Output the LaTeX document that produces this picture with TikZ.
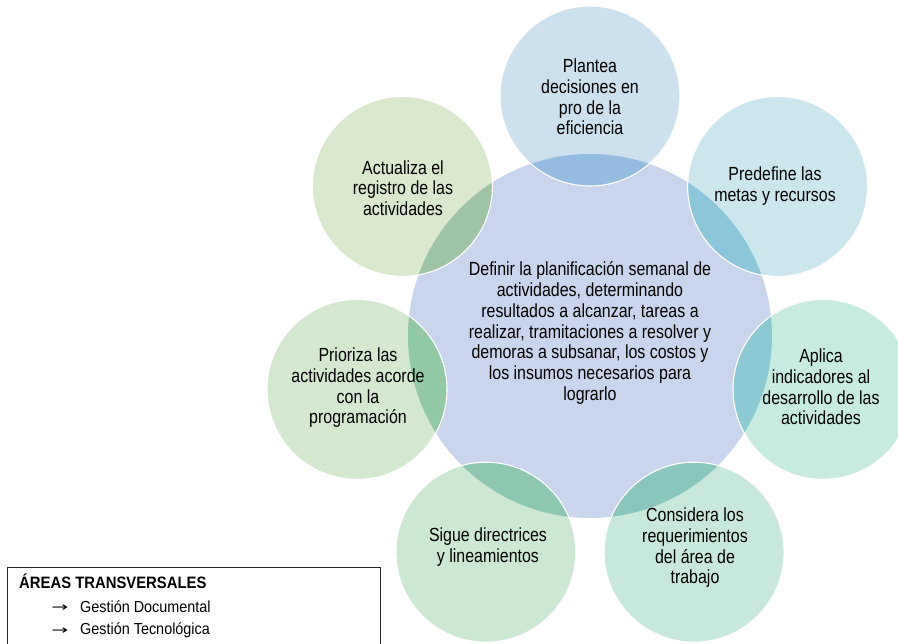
\documentclass[tikz,border=0pt]{standalone}
\usepackage{fontspec}
\setmainfont{Liberation Sans}
\newfontfamily\narrowfont[FakeStretch=0.84]{Liberation Sans}
\newfontfamily\legfont[FakeStretch=0.9]{Liberation Sans}
\newfontfamily\arrowfont{DejaVu Sans}
\definecolor{cC}{HTML}{C9D5EC}
\definecolor{p1}{HTML}{CDE0ED}\definecolor{o1}{HTML}{93BCDE}
\definecolor{p2}{HTML}{CCE6EE}\definecolor{o2}{HTML}{8DC5DA}
\definecolor{p3}{HTML}{C8EBE1}\definecolor{o3}{HTML}{8CC9D3}
\definecolor{p4}{HTML}{C9E8DC}\definecolor{o4}{HTML}{8AC6BE}
\definecolor{p5}{HTML}{CCE8D3}\definecolor{o5}{HTML}{8EC6AF}
\definecolor{p6}{HTML}{D4E8D0}\definecolor{o6}{HTML}{93C8A5}
\definecolor{p7}{HTML}{DAE8CD}\definecolor{o7}{HTML}{9FC3A5}
\begin{document}
\begin{tikzpicture}[x=1pt,y=-1pt,
  lbl/.style={align=center, font=\narrowfont\fontsize{19}{20.7}\selectfont, text=black, inner sep=0pt},
  ring/.style={draw=white, line width=1.1pt},
  legtext/.style={anchor=west, font=\legfont\fontsize{16}{18}\selectfont, inner sep=0pt, text=black},
  legarrow/.style={inner sep=0pt, font=\arrowfont\fontsize{14}{18}\selectfont, text=black}]
\path[use as bounding box, clip] (0,0) rectangle (898,644);
% central circle
\fill[cC] (590,336) circle[radius=182];
% outer circles with overlaps
\foreach \cx/\cy/\fc/\oc in {590/96/p1/o1, 777.6/186.4/p2/o2, 823/389.4/p3/o3,
  694.1/552.2/p4/o4, 485.9/552.2/p5/o5, 357/389.4/p6/o6, 402.4/186.4/p7/o7}{
  \fill[\fc] (\cx,\cy) circle[radius=90];
  \begin{scope}
    \clip (590,336) circle[radius=182];
    \fill[\oc] (\cx,\cy) circle[radius=90];
  \end{scope}
  \draw[ring] (\cx,\cy) circle[radius=90];
}
% texts
\node[lbl] (t0) at (590,333) {Definir la planificación semanal de\\actividades, determinando\\resultados a alcanzar, tareas a\\realizar, tramitaciones a resolver y\\demoras a subsanar, los costos y\\los insumos necesarios para\\lograrlo};
\node[lbl] (t1) at (590,97) {Plantea\\decisiones en\\pro de la\\eficiencia};
\node[lbl] (t2) at (775,186) {Predefine las\\metas y recursos};
\node[lbl] (t3) at (821,387) {Aplica\\indicadores al\\desarrollo de las\\actividades};
\node[lbl] (t4) at (695,548) {Considera los\\requerimientos\\del área de\\trabajo};
\node[lbl] (t5) at (488,547) {Sigue directrices\\y lineamientos};
\node[lbl] (t6) at (358,388) {Prioriza las\\actividades acorde\\con la\\programación};
\node[lbl] (t7) at (403,188) {Actualiza el\\registro de las\\actividades};
% legend
\draw[line width=0.9pt, draw=black!85] (7,567) rectangle (380,664);
\node[legtext, font=\legfont\fontsize{16.5}{18}\bfseries] (lh) at (19,581) {ÁREAS TRANSVERSALES};
\node[legarrow] (a1) at (60,608) {\scalebox{1.45}[0.9]{→}};
\node[legtext] (l1) at (80,607) {Gestión Documental};
\node[legarrow] (a2) at (60,631) {\scalebox{1.45}[0.9]{→}};
\node[legtext] (l2) at (80,630) {Gestión Tecnológica};
\end{tikzpicture}
\end{document}
